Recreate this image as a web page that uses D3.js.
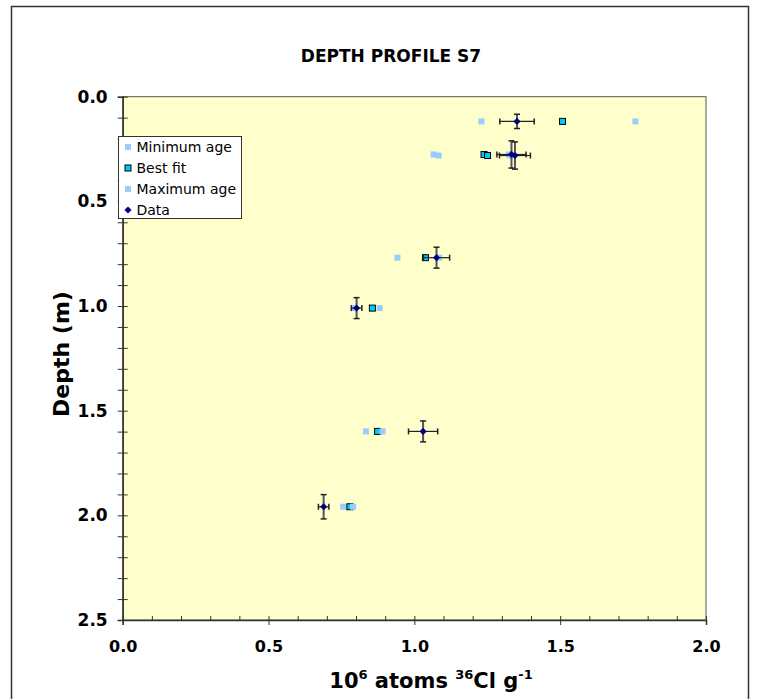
<!DOCTYPE html>
<html lang="en">
<head>
<meta charset="utf-8">
<title>Depth profile S7</title>
<script src="https://d3js.org/d3.v7.min.js"></script>
<style>
  body { margin: 0; background: #fff; }
  svg text { font-family: Verdana, "DejaVu Sans", sans-serif; }
</style>
</head>
<body>
<div class="chart"></div>
<script>
// depth (m) of each sample
var depths    = [0.118, 0.276, 0.281, 0.769, 1.010, 1.599, 1.959];
// measured 36Cl, 10^6 atoms/g, with errors
var dataX     = [1.352, 1.333, 1.345, 1.076, 0.802, 1.030, 0.689];
var dataXErr  = [0.059, 0.050, 0.053, 0.045, 0.018, 0.050, 0.018];
var dataYErr  = [0.034, 0.065, 0.065, 0.050, 0.050, 0.050, 0.058];
// model curves
var minAge    = [1.230, 1.066, 1.083, 0.942, 0.792, 0.834, 0.756];
var bestFit   = [1.508, 1.239, 1.251, 1.038, 0.856, 0.874, 0.779];
var maxAge    = [1.758, 1.324, 1.330, 1.085, 0.881, 0.891, 0.790];

var xTicks = [0, 0.5, 1.0, 1.5, 2.0];
var yTicks = [0, 0.5, 1.0, 1.5, 2.0, 2.5];
var minorTicks = d3.range(0, 26).map(function(i){ return i / 10; });

var legendNames = ["Minimum age", "Best fit", "Maximum age", "Data"];

var W = 758, H = 699;
var svg = d3.select(".chart").append("svg")
  .attr("width", W).attr("height", H);

// chart area border
svg.append("rect")
  .attr("x", 11.5).attr("y", 6.5)
  .attr("width", 737).attr("height", 720)
  .attr("fill", "#fff").attr("stroke", "#333").attr("stroke-width", 1.5);

var x = d3.scaleLinear().domain([0, 2]).range([122.7, 706]);
var y = d3.scaleLinear().domain([0, 2.5]).range([96.7, 620]);

// plot area
svg.append("rect")
  .attr("x", x(0)).attr("y", y(0))
  .attr("width", x(2) - x(0)).attr("height", y(2.5) - y(0))
  .attr("fill", "#ffffcc").attr("stroke", "#555").attr("stroke-width", 1);

// title
svg.append("text")
  .attr("x", 391).attr("y", 61.7)
  .attr("text-anchor", "middle")
  .style("font-size", "17px").style("font-weight", "bold")
  .text("DEPTH PROFILE S7");

// y axis: ticks crossing the line
var yLeft = svg.append("g")
  .attr("transform", "translate(" + x(0) + ",0)")
  .call(d3.axisLeft(y).tickValues(minorTicks).tickSize(5).tickPadding(10)
    .tickFormat(function(d){ return yTicks.indexOf(d) >= 0 ? d3.format(".1f")(d) : ""; }));
yLeft.selectAll("text").style("font-size", "17px").style("font-weight", "bold")
  .style("font-family", 'Verdana, "DejaVu Sans", sans-serif').attr("fill", "#000");
yLeft.selectAll("line").attr("stroke", "#333");
yLeft.select(".domain").attr("stroke", "#333").attr("stroke-width", 1.5);

var yRight = svg.append("g")
  .attr("transform", "translate(" + x(0) + ",0)")
  .call(d3.axisRight(y).tickValues(minorTicks).tickSize(5).tickFormat(""));
yRight.select(".domain").remove();
yRight.selectAll("line").attr("stroke", "#333");

// x axis
var xBottom = svg.append("g")
  .attr("transform", "translate(0," + y(2.5) + ")")
  .call(d3.axisBottom(x).tickValues(xTicks).tickSize(5).tickPadding(16)
    .tickFormat(d3.format(".1f")));
xBottom.selectAll("text").style("font-size", "16px").style("font-weight", "bold")
  .style("font-family", 'Verdana, "DejaVu Sans", sans-serif').attr("fill", "#000");
xBottom.selectAll("line").attr("stroke", "#333");
xBottom.select(".domain").attr("stroke", "#333").attr("stroke-width", 1.5);

var xTop = svg.append("g")
  .attr("transform", "translate(0," + y(2.5) + ")")
  .call(d3.axisTop(x).tickValues(d3.range(0, 21).map(function(i){ return i / 10; }))
    .tickSize(4).tickFormat(""));
xTop.select(".domain").remove();
xTop.selectAll("line").attr("stroke", "#333");

// axis titles
var xt = svg.append("text")
  .attr("x", 431).attr("y", 688)
  .attr("text-anchor", "middle")
  .style("font-size", "21px").style("font-weight", "bold");
xt.append("tspan").text("10");
xt.append("tspan").attr("dy", -9).style("font-size", "13px").text("6");
xt.append("tspan").attr("dy", 9).text(" atoms ");
xt.append("tspan").attr("dy", -9).style("font-size", "13px").text("36");
xt.append("tspan").attr("dy", 9).text("Cl g");
xt.append("tspan").attr("dy", -9).style("font-size", "13px").text("-1");

svg.append("text")
  .attr("transform", "translate(69,354) rotate(-90)")
  .attr("text-anchor", "middle")
  .style("font-size", "22px").style("font-weight", "bold")
  .text("Depth (m)");

// model series
var plot = svg.append("g");
var sq = 6;

plot.selectAll(".minAge").data(depths).enter().append("rect")
  .attr("class", "minAge")
  .attr("x", function(d, i){ return x(minAge[i]) - sq / 2; })
  .attr("y", function(d){ return y(d) - sq / 2; })
  .attr("width", sq).attr("height", sq)
  .attr("fill", "#99ccff");

plot.selectAll(".bestFit").data(depths).enter().append("rect")
  .attr("class", "bestFit")
  .attr("x", function(d, i){ return x(bestFit[i]) - sq / 2; })
  .attr("y", function(d){ return y(d) - sq / 2; })
  .attr("width", sq).attr("height", sq)
  .attr("fill", "#00ccff").attr("stroke", "#000").attr("stroke-width", 1);

plot.selectAll(".maxAge").data(depths).enter().append("rect")
  .attr("class", "maxAge")
  .attr("x", function(d, i){ return x(maxAge[i]) - sq / 2; })
  .attr("y", function(d){ return y(d) - sq / 2; })
  .attr("width", sq).attr("height", sq)
  .attr("fill", "#99ccff");

// error bars
var cap = 3;
depths.forEach(function(d, i) {
  var cx = x(dataX[i]), cy = y(d);
  var x0 = x(dataX[i] - dataXErr[i]), x1 = x(dataX[i] + dataXErr[i]);
  var y0 = y(d - dataYErr[i]), y1 = y(d + dataYErr[i]);
  var g = plot.append("g");
  g.append("line").attr("x1", cx).attr("x2", cx).attr("y1", y0).attr("y2", y1)
    .attr("stroke", "#555").attr("stroke-width", 2);
  [y0, y1].forEach(function(yy) {
    g.append("line").attr("x1", cx - cap).attr("x2", cx + cap).attr("y1", yy).attr("y2", yy)
      .attr("stroke", "#222").attr("stroke-width", 1.5);
  });
  g.append("line").attr("x1", x0).attr("x2", x1).attr("y1", cy).attr("y2", cy)
    .attr("stroke", "#222").attr("stroke-width", 1.2);
  [x0, x1].forEach(function(xx) {
    g.append("line").attr("x1", xx).attr("x2", xx).attr("y1", cy - cap).attr("y2", cy + cap)
      .attr("stroke", "#222").attr("stroke-width", 1.5);
  });
});

// square rotated 45 degrees, like the spreadsheet diamond marker
var diamond = d3.symbol().type(d3.symbolSquare).size(26);
plot.selectAll(".data").data(depths).enter().append("path")
  .attr("class", "data")
  .attr("d", diamond)
  .attr("transform", function(d, i){ return "translate(" + x(dataX[i]) + "," + y(d) + ") rotate(45)"; })
  .attr("fill", "#000080");

// legend
var lg = svg.append("g").attr("transform", "translate(118.5,136.5)");
lg.append("rect").attr("width", 123).attr("height", 82)
  .attr("fill", "#fff").attr("stroke", "#333").attr("stroke-width", 1);
legendNames.forEach(function(name, i) {
  var cy = 10.5 + i * 21;
  if (i === 3) {
    lg.append("path").attr("d", diamond)
      .attr("transform", "translate(9.5," + cy + ") rotate(45)").attr("fill", "#000080");
  } else {
    lg.append("rect").attr("x", 9.5 - sq / 2).attr("y", cy - sq / 2)
      .attr("width", sq).attr("height", sq)
      .attr("fill", i === 1 ? "#00ccff" : "#99ccff")
      .attr("stroke", i === 1 ? "#000" : "none");
  }
  lg.append("text").attr("x", 18).attr("y", cy + 5)
    .style("font-size", "14px").attr("fill", "#000").text(name);
});
</script>
</body>
</html>
